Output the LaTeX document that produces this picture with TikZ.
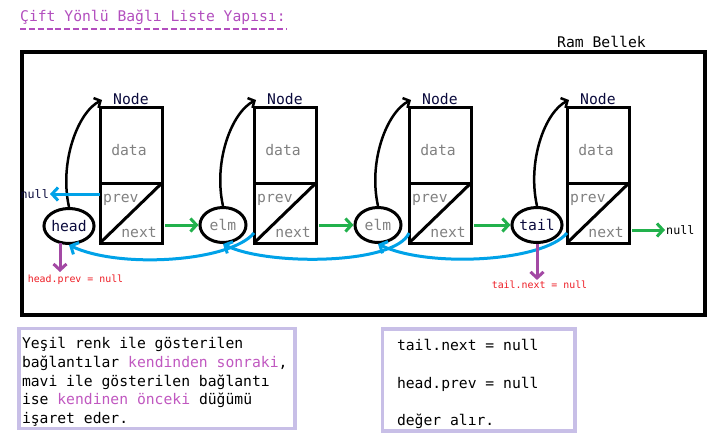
\documentclass[tikz,border=0pt]{standalone}
\usepackage{fontspec}
\setmonofont{DejaVu Sans Mono}[WordSpace={1,0,0}]
\usetikzlibrary{arrows.meta,positioning,shapes.geometric}

\definecolor{titlepurple}{RGB}{178,78,190}
\definecolor{notepink}{RGB}{192,88,192}
\definecolor{paintgreen}{RGB}{34,177,76}
\definecolor{paintblue}{RGB}{0,162,232}
\definecolor{paintpurple}{RGB}{163,73,164}
\definecolor{nullred}{RGB}{237,28,36}
\definecolor{lavender}{RGB}{200,191,231}
\definecolor{fieldgray}{RGB}{128,128,128}
\definecolor{inknavy}{RGB}{10,10,60}

\newcommand\bigtt{\ttfamily\fontsize{14.7}{18.75}\selectfont}
\newcommand\midtt{\ttfamily\fontsize{11.7}{14}\selectfont}
\newcommand\smalltt{\ttfamily\fontsize{9.9}{12}\selectfont}

\begin{document}
\begin{tikzpicture}
        [x=1pt,y=-1pt,
         every node/.style={inner sep=1pt,font=\bigtt},
         cellbox/.style={draw,line width=3pt,minimum width=62pt,inner sep=0pt,outer sep=0pt},
         field/.style={text=fieldgray},
         refnode/.style={draw,ellipse,line width=3pt,minimum width=46pt,minimum height=35pt,inner sep=0pt},
         selfarrow/.style={line width=2.5pt,-{Straight Barb[length=5pt,width=11pt]}},
         nextarrow/.style={paintgreen,line width=3pt,-{Straight Barb[length=6pt,width=13pt]}},
         prevarrow/.style={paintblue,line width=3pt,-{Straight Barb[length=6pt,width=13pt]}},
         nullarrow/.style={paintpurple,line width=3pt,-{Straight Barb[length=6pt,width=13pt]}},
         notebox/.style={draw=lavender,line width=3.3pt,inner sep=0pt},
         notetext/.style={align=left,inner sep=0pt,
           execute at begin node={\spaceskip=\fontdimen2\font\xspaceskip=\fontdimen2\font\relax}}]
        \useasboundingbox (0,0) rectangle (720,440);
        %\draw[help lines,step=20] (0,0) grid (720,440);
        \node[text=titlepurple,anchor=base west] (title) at (19,21) {Çift Yönlü Bağlı Liste Yapısı:};
        \draw[titlepurple,line width=1.3pt,dash pattern=on 6pt off 2.87pt]
          ([shift={(1,8)}]title.base west) -- ([shift={(0,8)}]title.base east);
        \node[anchor=base west] (ram) at (556,47) {Ram Bellek};
        \draw[line width=4pt] (21.5,52) rectangle (705,314.5);
        % the four nodes
        \foreach \i/\x in {1/131,2/285,3/440,4/598}{
          \node[cellbox,minimum height=76pt] (d\i) at (\x,145) {};
          \node[cellbox,minimum height=60pt,below=0pt of d\i] (p\i) {};
          \draw[line width=3pt] (p\i.south west) -- (p\i.north east);
          \node[field] at ([shift={(-2,5)}]d\i.center) {data};
          \node[field,anchor=base west] at ([shift={(2,19)}]p\i.north west) {prev};
          \node[field,anchor=base east] at ([shift={(-4,-6)}]p\i.south east) {next};
          \node[text=inknavy,anchor=base west] at ([shift={(12,-3)}]d\i.north west) {Node};
        }
        % pointers
        \node[refnode,text=inknavy] (r1) at (69,226) {head};
        \node[refnode,field] (r2) at (223,225) {elm};
        \node[refnode,field] (r3) at (378,225) {elm};
        \node[refnode,text=inknavy] (r4) at (537,225) {tail};
        \foreach \i in {1,...,4}
          \draw[selfarrow] (r\i.north) .. controls +(-10,-45) and +(-24,12) .. ([shift={(2,-7)}]d\i.north west);
        % next links
        \foreach \i/\j in {1/2,2/3,3/4}
          \draw[nextarrow,shorten <=3pt] (p\i.east |- r\j.west) -- (r\j.west);
        \node[font=\midtt,anchor=west] (nullR) at (665,230) {null};
        \draw[nextarrow,shorten <=3pt] (p4.east |- nullR.west) -- (nullR.west);
        % prev links
        \node[font=\midtt,text=inknavy,anchor=east] (nullL) at (50,194) {null};
        \draw[prevarrow] (p1.west |- nullL.east) -- (nullL.east);
        \draw[prevarrow] ([shift={(0,-10)}]p2.south west) .. controls +(-24,29) and +(50,24) .. (r1.south);
        \draw[prevarrow] ([shift={(0,-10)}]p3.south west) .. controls +(-14,32) and +(44,22) .. (r2.south);
        \draw[prevarrow] ([shift={(0,-10)}]p4.south west) .. controls +(-24,29) and +(50,24) .. (r3.south);
        % null ends
        \node[font=\smalltt,text=nullred] (hp) at (75.5,280) {head.prev = null};
        \node[font=\smalltt,text=nullred] (tn) at (539.5,285) {tail.next = null};
        \coordinate (hpTip) at (60,272);
        \draw[nullarrow,shorten <=-2pt] (r1.south -| hpTip) -- (hpTip);
        \draw[nullarrow] (r4.south) -- (r4.south |- tn.north);
        % notes
        \node[notebox,minimum width=276pt,minimum height=100pt] (leftnote) at (157,378.5) {};
        \node[notetext,text width=270pt] (lefttext) at ([shift={(0,3.5)}]leftnote.center)
          {Yeşil renk ile gösterilen\\bağlantılar \textcolor{notepink}{kendinden sonraki},\\mavi ile gösterilen bağlantı\\ise \textcolor{notepink}{kendinen önceki} düğümü\\işaret eder.};
        \node[notebox,minimum width=192.5pt,minimum height=102pt] (rightnote) at (478.75,380) {};
        \node[notetext,text width=163.5pt,font=\ttfamily\fontsize{14.7}{37.3}\selectfont] (righttext)
          at ([shift={(0,4)}]rightnote.center) {tail.next = null\\head.prev = null\\değer alır.};
      \end{tikzpicture}
\end{document}
